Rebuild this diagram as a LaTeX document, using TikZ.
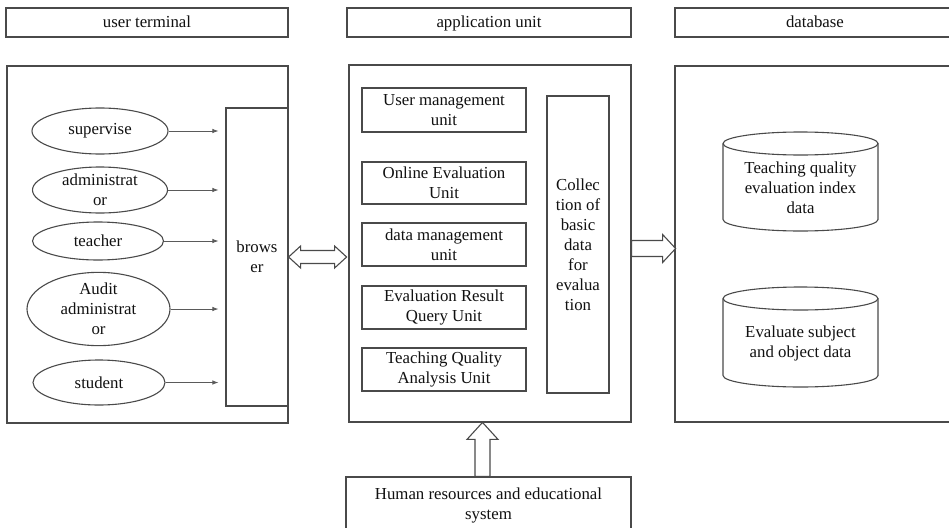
\documentclass[tikz,border=0pt]{standalone}
\usepackage{fontspec}
\setmainfont{Liberation Serif}
\usetikzlibrary{shapes.geometric,arrows.meta,calc}
\definecolor{lc}{HTML}{4A4A4A}
\definecolor{ac}{HTML}{5A5A5A}
\definecolor{tc}{HTML}{111111}
\begin{document}
\begin{tikzpicture}[x=1pt,y=-1pt,
  font=\fontsize{16.8}{20}\selectfont,
  bx/.style={draw=lc, line width=1.2pt, inner sep=0pt, align=center, text=tc},
  hdr/.style={bx, minimum height=29pt, text height=13pt, text depth=2pt},
  ell/.style={ellipse, draw=lc, line width=1.1pt, inner sep=0pt, align=center, text=tc},
  thinarr/.style={draw=ac, line width=0.8pt, -{Latex[length=6pt,width=4.5pt]}, shorten >=7pt},
  blk/.style={draw=lc, line width=1.1pt, fill=white, line join=miter},
  cyl/.style={draw=lc, line width=1.1pt, fill=white},
  lbl/.style={text=tc, align=center, inner sep=0pt},
]
\useasboundingbox (0,0) rectangle (949,527);
\clip (0,0) rectangle (949,527);
\fill[white] (0,0) rectangle (949,527);

% headers
\node[hdr, minimum width=282pt] (hdr1) at (147,22.5) {user terminal};
\node[hdr, minimum width=284pt] (hdr2) at (489,22.5) {application unit};
\node[hdr, minimum width=280pt] (hdr3) at (815,22.5) {database};

% main boxes
\node[bx, minimum width=281pt, minimum height=357pt] (box1) at (147.5,244.5) {};
\node[bx, minimum width=282pt, minimum height=357pt] (box2) at (490,243.5) {};
\node[bx, minimum width=280pt, minimum height=356pt] (box3) at (815,244) {};

% user terminal content
\node[bx, minimum width=62pt, minimum height=298pt] (browser) at (257,257) {brows\\er};
\node[ell, minimum width=136pt, minimum height=46pt] (sup) at (100,131) {supervise};
\node[ell, minimum width=135pt, minimum height=46pt] (adm) at (100,190) {administrat\\or};
\node[ell, minimum width=131pt, minimum height=38pt] (tea) at (98,241) {teacher};
\node[ell, minimum width=143pt, minimum height=73pt] (aud) at (98.5,309) {Audit\\administrat\\or};
\node[ell, minimum width=132pt, minimum height=45pt] (stu) at (99,382.5) {student};

\foreach \n in {sup,adm,tea,aud,stu}
  \draw[thinarr] (\n.east) -- (\n.east -| browser.west);

% application unit content
\node[bx, minimum width=164pt, minimum height=44pt] (u1) at (444,110) {User management\\unit};
\node[bx, minimum width=164pt, minimum height=42pt] (u2) at (444,183) {Online Evaluation\\Unit};
\node[bx, minimum width=164pt, minimum height=43pt] (u3) at (444,244.5) {data management\\unit};
\node[bx, minimum width=164pt, minimum height=43pt] (u4) at (444,307.5) {Evaluation Result\\Query Unit};
\node[bx, minimum width=164pt, minimum height=43pt] (u5) at (444,369.5) {Teaching Quality\\Analysis Unit};
\node[bx, minimum width=62pt, minimum height=297pt] (coll) at (578,244.5) {Collec\\tion of\\basic\\data\\for\\evalua\\tion};

% database cylinders
\draw[cyl] (723,143.5) -- (723,219.5)
  .. controls (723,225.85) and (757.7,231) .. (800.5,231)
  .. controls (843.3,231) and (878,225.85) .. (878,219.5)
  -- (878,143.5);
\draw[cyl] (800.5,143.5) ellipse [x radius=77.5pt, y radius=11.5pt];
\node[lbl] (cyl1) at (800.5,188) {Teaching quality\\evaluation index\\data};

\draw[cyl] (723,298.5) -- (723,375.5)
  .. controls (723,381.85) and (757.7,387) .. (800.5,387)
  .. controls (843.3,387) and (878,381.85) .. (878,375.5)
  -- (878,298.5);
\draw[cyl] (800.5,298.5) ellipse [x radius=77.5pt, y radius=11.5pt];
\node[lbl] (cyl2) at (800.5,343) {Evaluate subject\\and object data};

% bottom box
\node[bx, minimum width=285pt, minimum height=56pt] (hr) at (488.5,505) {Human resources and educational\\system};

% block arrows
\draw[blk] (browser.east) -- ++(12,-11) -- ++(0,4.5) -- ++(34,0) -- ++(0,-4.5)
  -- ++(12,11) -- ++(-12,11) -- ++(0,-4.5) -- ++(-34,0) -- ++(0,4.5) -- cycle;
\draw[blk] ([yshift=-5pt]box2.east) -- ++(0,-8) -- ++(31,0) -- ++(0,-6) -- ++(13,14)
  -- ++(-13,14) -- ++(0,-6) -- ++(-31,0) -- cycle;
\draw[blk] ([xshift=-6pt]hr.north) -- ++(-7.5,0) -- ++(0,-37) -- ++(-8,0) -- ++(15.5,-17)
  -- ++(15.5,17) -- ++(-8,0) -- ++(0,37) -- cycle;
\end{tikzpicture}
\end{document}
